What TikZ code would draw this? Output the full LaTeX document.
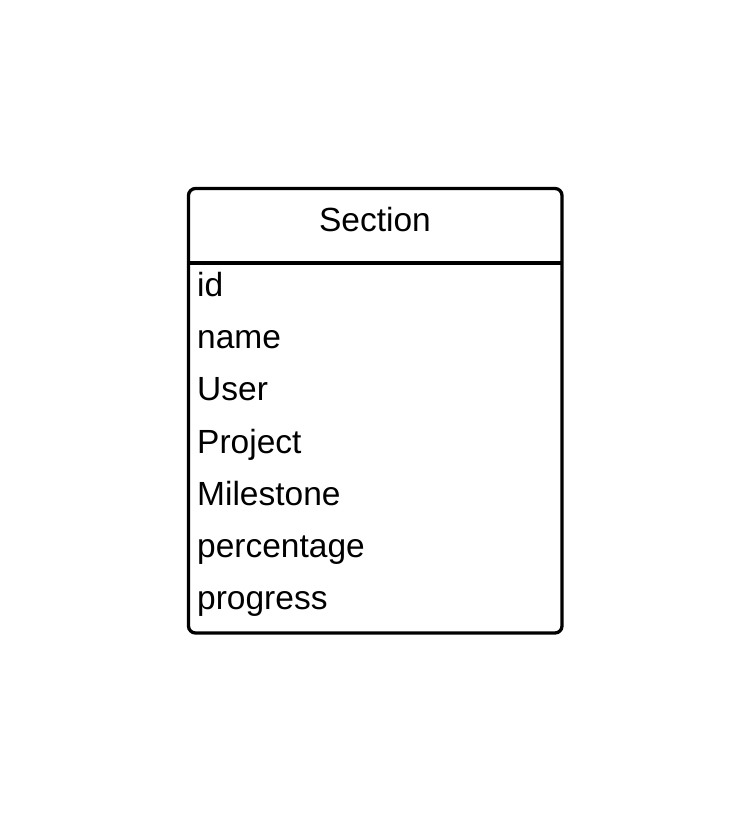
\documentclass[tikz,border=0pt]{standalone}
\usepackage{fontspec}
\setmainfont{Liberation Sans}
\begin{document}
\begin{tikzpicture}[x=1pt,y=-1pt,
  box/.style={draw=black,line width=3.3pt,rounded corners=7pt},
  field/.style={anchor=base west,inner sep=0pt,font=\fontsize{33.5}{33.5}\selectfont},
  title/.style={anchor=base,inner sep=0pt,font=\fontsize{33.5}{33.5}\selectfont}]
\useasboundingbox[fill=white] (0,0) rectangle (750,817);
\draw[box] (188.5,188.5) rectangle (562,633);
\draw[line width=3.3pt] (188.5,263) -- (562,263);
\node[title] (title) at (375,231) {Section};
\node[field] (f1) at (197,296) {id};
\node[field] (f2) at (197,348) {name};
\node[field] (f3) at (197,400) {User};
\node[field] (f4) at (197,453) {Project};
\node[field] (f5) at (197,505) {Milestone};
\node[field] (f6) at (197,557) {percentage};
\node[field] (f7) at (197,609) {progress};
\end{tikzpicture}
\end{document}
